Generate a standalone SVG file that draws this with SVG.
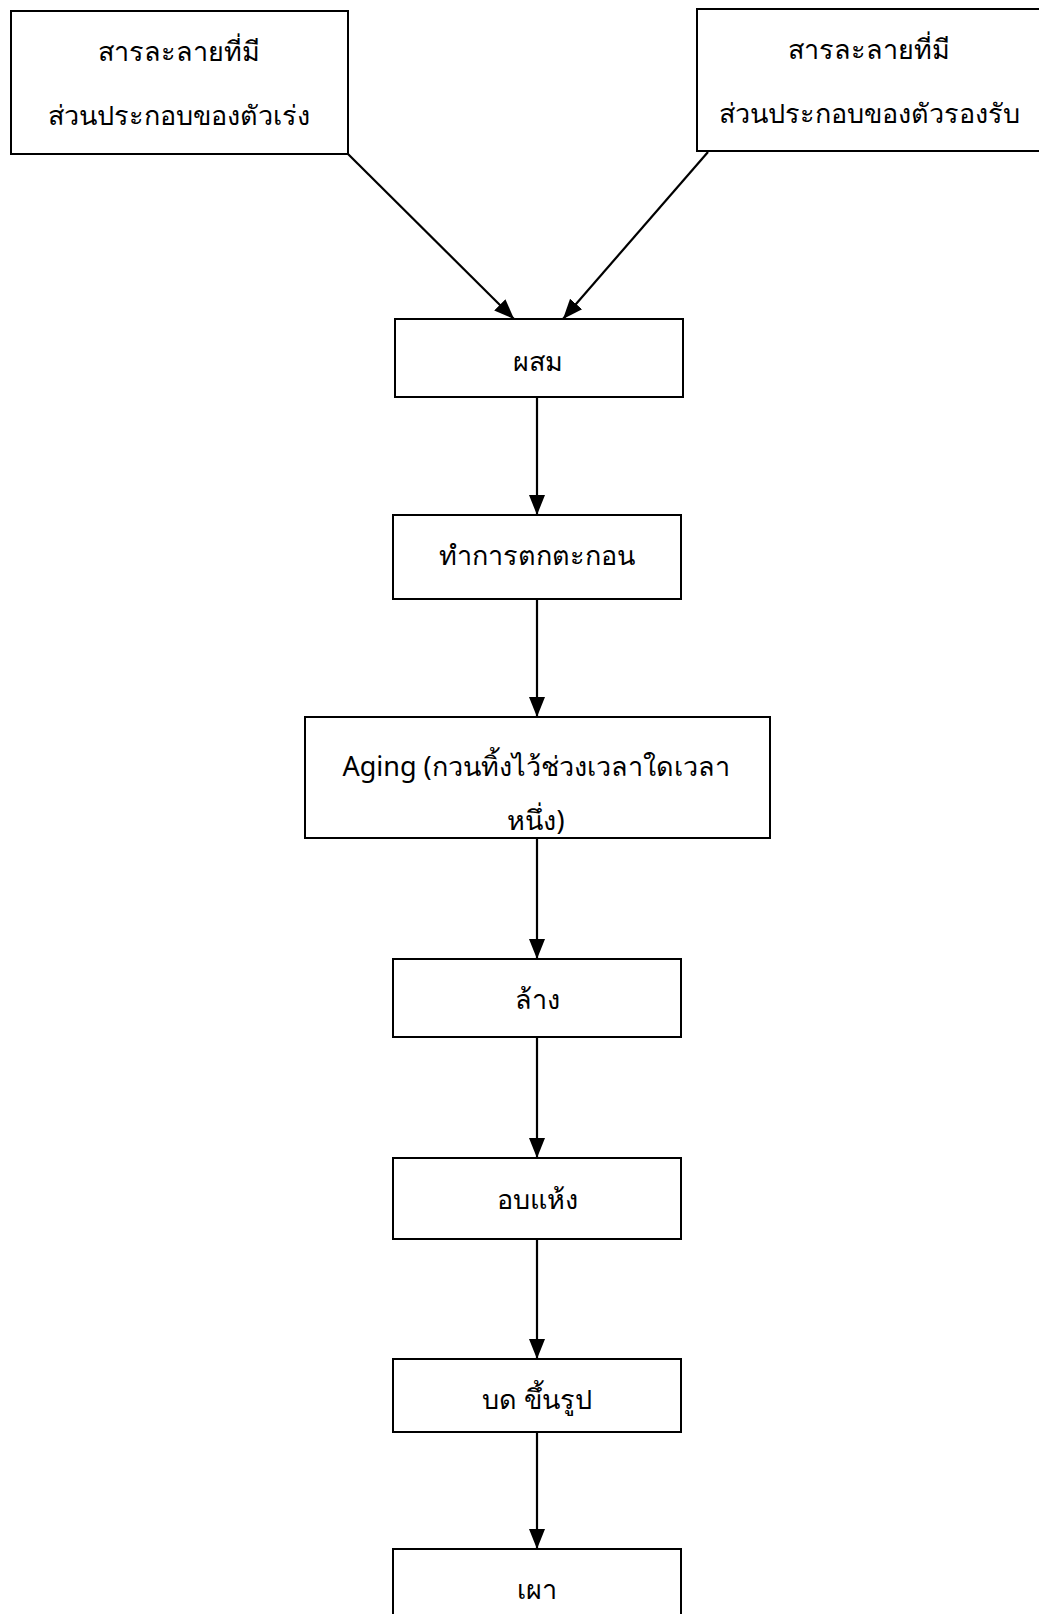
<svg xmlns="http://www.w3.org/2000/svg" width="1039" height="1614" viewBox="0 0 1039 1614">
<style>
rect.box{fill:#fff;stroke:#000;stroke-width:2}
text{font-family:"Noto Sans","DejaVu Sans",sans-serif;font-size:27px;fill:#000;text-anchor:middle}
.conn line{stroke:#000;stroke-width:2.2}
</style>
<defs>
<marker id="ah" markerUnits="userSpaceOnUse" markerWidth="20" markerHeight="20" viewBox="0 0 20 20" refX="20" refY="10" orient="auto">
<path d="M0,2 L20,10 L0,18 Z" fill="#000"/>
</marker>
</defs>
<rect width="1039" height="1614" fill="#fff"/>
<g id="n1"><rect class="box" x="11" y="11" width="337" height="143"/>
<text x="179" y="61">สารละลายที่มี</text><text x="179" y="125">ส่วนประกอบของตัวเร่ง</text></g>
<g id="n2"><rect class="box" x="697" y="9" width="350" height="142"/>
<text x="869" y="59">สารละลายที่มี</text><text x="869" y="123">ส่วนประกอบของตัวรองรับ</text></g>
<g id="n3"><rect class="box" x="395" y="319" width="288" height="78"/><text x="538" y="371">ผสม</text></g>
<g id="n4"><rect class="box" x="393" y="515" width="288" height="84"/><text x="537" y="565">ทำการตกตะกอน</text></g>
<g id="n5"><rect class="box" x="305" y="717" width="465" height="121"/><text x="536" y="776">Aging (กวนทิ้งไว้ช่วงเวลาใดเวลา</text><text x="536" y="830">หนึ่ง)</text></g>
<g id="n6"><rect class="box" x="393" y="959" width="288" height="78"/><text x="537" y="1009">ล้าง</text></g>
<g id="n7"><rect class="box" x="393" y="1158" width="288" height="81"/><text x="537" y="1209">อบแห้ง</text></g>
<g id="n8"><rect class="box" x="393" y="1359" width="288" height="73"/><text x="537" y="1409">บด ขึ้นรูป</text></g>
<g id="n9"><rect class="box" x="393" y="1549" width="288" height="80"/><text x="537" y="1599">เผา</text></g>
<g class="conn" id="connectors">
<line x1="347" y1="153" x2="514" y2="319" marker-end="url(#ah)"/>
<line x1="708" y1="152" x2="563" y2="319" marker-end="url(#ah)"/>
<line x1="537" y1="397" x2="537" y2="515" marker-end="url(#ah)"/>
<line x1="537" y1="599" x2="537" y2="717" marker-end="url(#ah)"/>
<line x1="537" y1="838" x2="537" y2="959" marker-end="url(#ah)"/>
<line x1="537" y1="1037" x2="537" y2="1158" marker-end="url(#ah)"/>
<line x1="537" y1="1239" x2="537" y2="1359" marker-end="url(#ah)"/>
<line x1="537" y1="1432" x2="537" y2="1549" marker-end="url(#ah)"/>
</g>
</svg>
